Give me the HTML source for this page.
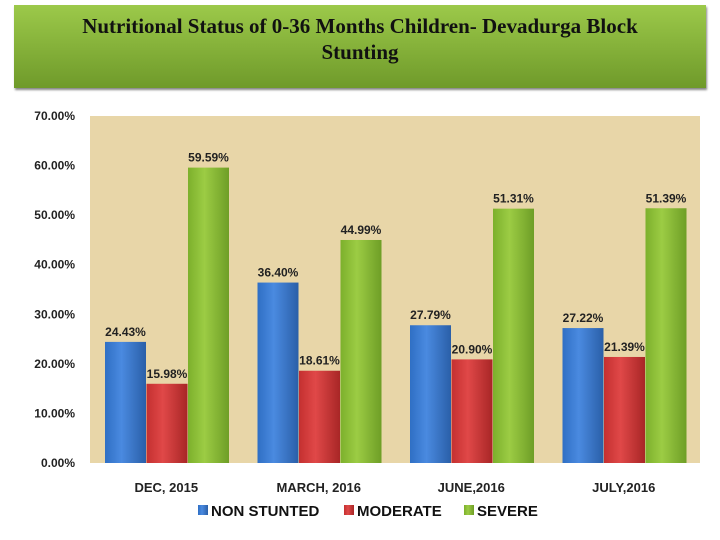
<!DOCTYPE html>
<html><head><meta charset="utf-8"><style>
body{margin:0;width:720px;height:540px;background:#fff;overflow:hidden;font-family:"Liberation Sans",sans-serif}
#title{position:absolute;left:14px;top:5px;width:692px;height:83px;background:linear-gradient(#9cc94a,#6f9a2a);box-shadow:1px 2px 2px #888;text-align:center;font-family:"Liberation Serif",serif;font-weight:bold;font-size:21px;line-height:26px;color:#111;padding-top:8px;box-sizing:border-box}
</style></head><body>
<div id="title">Nutritional Status of 0-36 Months Children- Devadurga Block<br>Stunting</div>
<svg id="c" width="720" height="540" style="position:absolute;left:0;top:0">
<defs>
<linearGradient id="gb" x1="0" x2="1"><stop offset="0" stop-color="#2f6fc4"/><stop offset=".4" stop-color="#4a8ae0"/><stop offset="1" stop-color="#2a5fa8"/></linearGradient>
<linearGradient id="gr" x1="0" x2="1"><stop offset="0" stop-color="#c43030"/><stop offset=".4" stop-color="#e04848"/><stop offset="1" stop-color="#a82626"/></linearGradient>
<linearGradient id="gg" x1="0" x2="1"><stop offset="0" stop-color="#7cb02c"/><stop offset=".4" stop-color="#9ccc44"/><stop offset="1" stop-color="#6e9e26"/></linearGradient>
</defs>
</svg>
<script>
const categories=["DEC, 2015","MARCH, 2016","JUNE,2016","JULY,2016"];
const nonStunted=[24.43,36.40,27.79,27.22];
const moderate=[15.98,18.61,20.90,21.39];
const severe=[59.59,44.99,51.31,51.39];
const yTicks=[0,10,20,30,40,50,60,70];
const seriesNames=["NON STUNTED","MODERATE","SEVERE"];
const svg=document.getElementById('c');const NS='http://www.w3.org/2000/svg';
const L=90,R=700,T=116,B=463;
const y=v=>B-(v/70)*(B-T);
const gw=(R-L)/categories.length;
function mk(t,a){const e=document.createElementNS(NS,t);for(const k in a)e.setAttribute(k,a[k]);svg.appendChild(e);return e;}
const bg=mk('rect',{x:L,y:T,width:R-L,height:B-T,fill:'#e8d6a8'});


yTicks.forEach(v=>{const t=mk('text',{x:75,y:y(v)+4,'text-anchor':'end','font-size':12,'font-weight':'bold',fill:'#222'});t.textContent=v.toFixed(2)+'%';

});
const series=[nonStunted,moderate,severe],fills=['url(#gb)','url(#gr)','url(#gg)'],keys=['non-stunted','moderate','severe'];
categories.forEach((c,i)=>{
 series.forEach((s,j)=>{const x=L+i*gw+15+j*41.5;
  const r=mk('rect',{x:x,y:y(s[i]),width:41,height:B-y(s[i]),fill:fills[j]});
  
  
  const t=mk('text',{x:x+20.5,y:y(s[i])-6,'text-anchor':'middle','font-size':12,'font-weight':'bold',fill:'#222'});t.textContent=s[i].toFixed(2)+'%';
  
  });
 const t=mk('text',{x:L+i*gw+gw/2,y:492,'text-anchor':'middle','font-size':13,'font-weight':'bold',fill:'#222'});t.textContent=c;
 
 
});
const lx=[198,344,464];
seriesNames.forEach((n,j)=>{const r=mk('rect',{x:lx[j],y:505,width:10,height:10,fill:fills[j]});
 
 
 const t=mk('text',{x:lx[j]+13,y:516,'font-size':15,'font-weight':'bold',fill:'#111'});t.textContent=n;
 
 });
</script>
</body></html>
